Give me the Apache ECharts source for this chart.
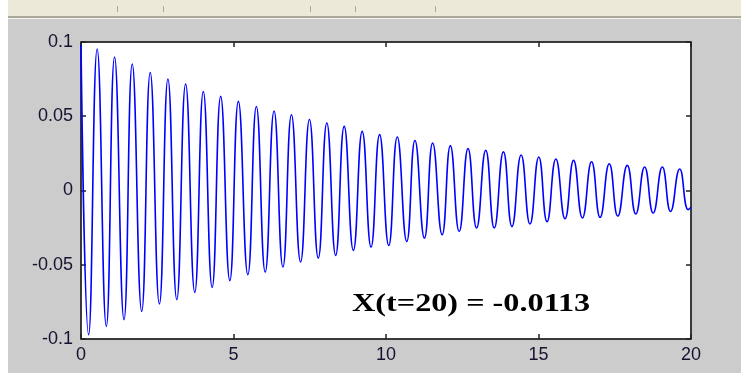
<!DOCTYPE html>
<html>
<head>
<meta charset="utf-8">
<script src="https://cdn.jsdelivr.net/npm/echarts@6/dist/echarts.min.js"></script>
<style>
  html, body { margin: 0; padding: 0; background: #fff; }
  #chart { width: 741px; height: 373px; }
</style>
</head>
<body>
<div id="chart"></div>
<script>
// 极值点
var peakT = [0.53, 1.10, 1.68, 2.27, 2.85, 3.43, 4.01, 4.58, 5.16, 5.75, 6.33, 6.90, 7.49,
  8.06, 8.63, 9.22, 9.79, 10.37, 10.95, 11.53, 12.11, 12.69, 13.27, 13.85, 14.43, 15.01,
  15.57, 16.15, 16.74, 17.32, 17.91, 18.48, 19.06, 19.63];
var peakX = [0.0953, 0.0899, 0.0852, 0.0795, 0.0751, 0.0717, 0.0667, 0.0634, 0.0600, 0.0566,
  0.0535, 0.0510, 0.0478, 0.0455, 0.0432, 0.0398, 0.0376, 0.0360, 0.0337, 0.0320, 0.0302,
  0.0282, 0.0270, 0.0260, 0.0239, 0.0226, 0.0212, 0.0203, 0.0194, 0.0180, 0.0169, 0.0158,
  0.0158, 0.0145];
var troughT = [0.25, 0.83, 1.41, 1.99, 2.57, 3.14, 3.73, 4.30, 4.88, 5.47, 6.04, 6.62, 7.20,
  7.78, 8.35, 8.93, 9.51, 10.09, 10.68, 11.26, 11.84, 12.40, 12.97, 13.55, 14.13, 14.72,
  15.28, 15.87, 16.44, 17.02, 17.60, 18.19, 18.76, 19.33, 19.91];
var troughX = [-0.0971, -0.0915, -0.0870, -0.0814, -0.0764, -0.0735, -0.0686, -0.0653, -0.0607,
  -0.0567, -0.0549, -0.0515, -0.0481, -0.0455, -0.0437, -0.0403, -0.0381, -0.0370, -0.0343,
  -0.0320, -0.0298, -0.0276, -0.0253, -0.0253, -0.0242, -0.0226, -0.0210, -0.0190, -0.0185,
  -0.0181, -0.0172, -0.0158, -0.0152, -0.0141, -0.0129];
var startPoint = [0, 0.098];
var endPoint = [20, -0.0113];

var xTicks = [0, 5, 10, 15, 20];
var yTicks = [-0.1, -0.05, 0, 0.05, 0.1];
var note = 'X(t=20) = -0.0113';

var pts = [];
peakT.forEach(function (t, i) { pts.push([t, peakX[i]]); });
troughT.forEach(function (t, i) { pts.push([t, troughX[i]]); });
pts.sort(function (a, b) { return a[0] - b[0]; });
pts.unshift(startPoint);
pts.push(endPoint);

var chart = echarts.init(document.getElementById('chart'));

var labelFont = {
  color: '#1a1030',
  fontFamily: '"Liberation Sans Narrow", "Arial Narrow", "Liberation Sans", sans-serif',
  fontSize: 18
};
var lineStyle = { color: '#222', width: 1.5 };

function axisX(pos, labels) {
  return {
    type: 'value',
    min: xTicks[0], max: xTicks[xTicks.length - 1], interval: 5,
    position: pos,
    axisLine: { onZero: false, lineStyle: lineStyle },
    axisTick: { inside: true, length: 5, lineStyle: lineStyle },
    axisLabel: labels ? Object.assign({ margin: 7 }, labelFont) : { show: false },
    splitLine: { show: false }
  };
}
function axisY(pos, labels) {
  return {
    type: 'value',
    min: yTicks[0], max: yTicks[yTicks.length - 1], interval: 0.05,
    position: pos,
    axisLine: { onZero: false, lineStyle: lineStyle },
    axisTick: { inside: true, length: 5, lineStyle: lineStyle },
    axisLabel: labels ? Object.assign({ margin: 8 }, labelFont) : { show: false },
    splitLine: { show: false }
  };
}

chart.setOption({
  backgroundColor: '#cccccc',
  animation: false,
  grid: {
    left: 81, right: 50, top: 42, bottom: 34,
    show: true,
    backgroundColor: '#fff',
    borderColor: '#222',
    borderWidth: 1
  },
  xAxis: [axisX('bottom', true), axisX('top', false)],
  yAxis: [axisY('left', true), axisY('right', false)],
  graphic: [
    // 顶部工具栏
    { type: 'rect', shape: { x: 0, y: 0, width: 741, height: 16 }, style: { fill: '#ece9d8' } },
    { type: 'rect', shape: { x: 0, y: 16, width: 741, height: 2 }, style: { fill: '#aca899' } },
    { type: 'rect', shape: { x: 0, y: 18, width: 741, height: 1 }, style: { fill: '#f4f3ee' } },
    { type: 'rect', shape: { x: 0, y: 0, width: 8, height: 373 }, style: { fill: '#fff' } },
    { type: 'rect', shape: { x: 117, y: 6, width: 1, height: 6 }, style: { fill: '#aca899' } },
    { type: 'rect', shape: { x: 163, y: 6, width: 1, height: 6 }, style: { fill: '#aca899' } },
    { type: 'rect', shape: { x: 310, y: 6, width: 1, height: 6 }, style: { fill: '#aca899' } },
    { type: 'rect', shape: { x: 355, y: 6, width: 1, height: 6 }, style: { fill: '#aca899' } },
    { type: 'rect', shape: { x: 435, y: 6, width: 1, height: 6 }, style: { fill: '#aca899' } },
    {
      type: 'text', x: 352, y: 291, z: 100,
      scaleX: 1.24,
      style: {
        text: note,
        fill: '#000',
        font: 'bold 26px "Liberation Serif", "Times New Roman", serif'
      }
    }
  ],
  series: [{
    type: 'line',
    xAxisIndex: 0,
    yAxisIndex: 0,
    data: pts,
    smooth: 0.5,
    showSymbol: false,
    lineStyle: { color: '#0000ff', width: 1.6 }
  }]
});
</script>
</body>
</html>
